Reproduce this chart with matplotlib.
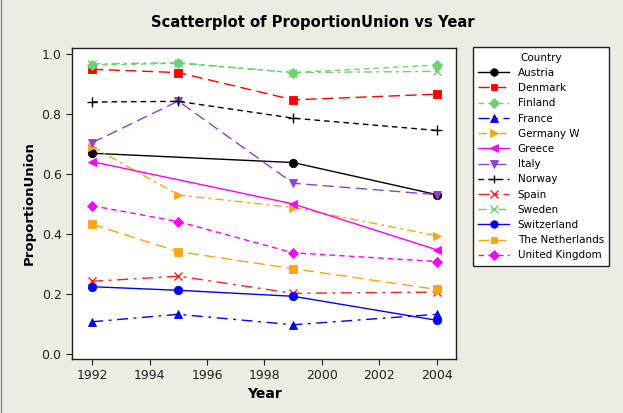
import numpy as np
import matplotlib
matplotlib.use('Agg')
import matplotlib.pyplot as plt

years = [1992, 1995, 1999, 2004]
nan = np.nan

countries = ['Austria', 'Denmark', 'Finland', 'France', 'Germany W', 'Greece', 'Italy',
             'Norway', 'Spain', 'Sweden', 'Switzerland', 'The Netherlands', 'United Kingdom']

austria = [0.670, nan, 0.639, 0.532]
denmark = [0.950, 0.939, 0.848, 0.867]
finland = [0.964, 0.970, 0.939, 0.964]
france = [0.108, 0.133, 0.098, 0.133]
germany_w = [0.692, 0.531, 0.489, 0.395]
greece = [0.642, nan, 0.501, 0.348]
italy = [0.705, 0.844, 0.570, 0.532]
norway = [0.841, 0.843, 0.787, 0.746]
spain = [0.243, 0.260, 0.203, 0.207]
sweden = [0.968, 0.972, 0.939, 0.943]
switzerland = [0.225, 0.213, 0.193, 0.113]
netherlands = [0.433, 0.342, 0.285, 0.216]
uk = [0.495, 0.442, 0.338, 0.309]

series = [austria, denmark, finland, france, germany_w, greece, italy,
          norway, spain, sweden, switzerland, netherlands, uk]

colors = ['black', '#ff0000', '#6fd06f', '#0000ff', '#ffa319', '#ff00ff', '#8f3fd3',
          'black', '#ff2020', '#6fd06f', '#0000ff', '#ffa319', '#ff00ff']
markers = ['o', 's', 'D', '^', '>', '<', 'v', '+', 'x', 'x', 'o', 's', 'D']
dashes = [None, (8, 4), (4, 3), (8, 4, 2, 4), (6, 3, 2, 3), None, (8, 4),
          (4, 3), (8, 4, 2, 4), (6, 3, 2, 3), None, (8, 4), (4, 3)]
msizes = [6, 5.5, 5.5, 6, 6, 6, 6, 7, 6, 6, 6, 5.5, 5.5]

bg = '#eeebe3'
fig = plt.figure(figsize=(6.23, 4.13), dpi=100, facecolor=bg)
ax = fig.add_axes([0.1156, 0.1308, 0.6164, 0.753])
ax.set_facecolor('white')

x = np.array(years, dtype=float)
for name, vals, c, m, d, ms in zip(countries, series, colors, markers, dashes, msizes):
    v = np.array(vals, dtype=float)
    ok = ~np.isnan(v)
    line, = ax.plot(x[ok], v[ok], color=c, marker=m, markersize=ms, linewidth=1.0,
                    label=name, markeredgewidth=1.0 if m in ['+', 'x'] else 0.6)
    if d is not None:
        line.set_dashes(d)

ax.set_xlim(1991.30, 2004.67)
ax.set_ylim(-0.016, 1.021)
ax.set_xticks([1992, 1994, 1996, 1998, 2000, 2002, 2004])
ax.set_yticks([0.0, 0.2, 0.4, 0.6, 0.8, 1.0])
ax.set_yticklabels(['0.0', '0.2', '0.4', '0.6', '0.8', '1.0'])
ax.tick_params(direction='out', length=4, width=0.8, labelsize=9, colors='#222222')
for s in ax.spines.values():
    s.set_color('#222222')
    s.set_linewidth(1.0)

ax.set_xlabel('Year', fontsize=10, fontweight='bold', labelpad=3)
ax.set_ylabel('ProportionUnion', fontsize=9.5, fontweight='bold', labelpad=4)
fig.text(0.502, 0.945, 'Scatterplot of ProportionUnion vs Year', ha='center', va='center',
         fontsize=10.6, fontweight='bold')

leg = ax.legend(title='Country', loc='upper left', bbox_to_anchor=(0.759, 0.885),
                bbox_transform=fig.transFigure, borderaxespad=0, fontsize=7.5,
                title_fontsize=7.5, fancybox=False, framealpha=1, edgecolor='#222222',
                handlelength=3.0, labelspacing=0.5, borderpad=0.5, handletextpad=0.8,
                markerscale=0.9)
leg.get_frame().set_linewidth(1.0)

# thin grey edge on the left, as in the reference
fig.add_artist(plt.Line2D([0.001, 0.001], [0, 1], transform=fig.transFigure,
                          color='#8a8a8a', linewidth=1.0))

fig.savefig('out.png', dpi=100, facecolor=bg)
